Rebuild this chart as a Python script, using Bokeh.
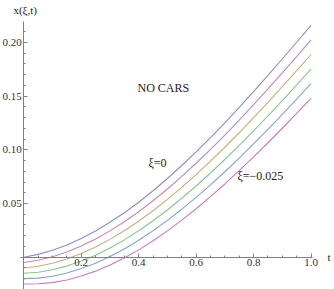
import numpy as np
from bokeh.plotting import figure
from bokeh.models import FixedTicker, Label
from bokeh.embed import file_html
from bokeh.resources import INLINE

# data
t = [0.0, 0.05, 0.1, 0.15, 0.2, 0.25, 0.3, 0.35, 0.4, 0.45, 0.5,
     0.55, 0.6, 0.65, 0.7, 0.75, 0.8, 0.85, 0.9, 0.95, 1.0]
xi_0 = [0.0, 0.0026, 0.0064, 0.0113, 0.0174, 0.0244, 0.0325, 0.0414, 0.0512, 0.0619, 0.0733,
        0.0854, 0.0981, 0.1114, 0.1252, 0.1395, 0.1542, 0.1693, 0.1846, 0.2002, 0.216]
xi_m005 = [-0.0050, -0.0029, 0.0004, 0.0048, 0.0104, 0.0169, 0.0245, 0.0330, 0.0423, 0.0526, 0.0635,
           0.0752, 0.0875, 0.1004, 0.1138, 0.1277, 0.1420, 0.1568, 0.1717, 0.1869, 0.2024]
xi_m010 = [-0.0100, -0.0084, -0.0056, -0.0017, 0.0034, 0.0094, 0.0166, 0.0246, 0.0335, 0.0433, 0.0538,
           0.0650, 0.0769, 0.0894, 0.1024, 0.1159, 0.1299, 0.1442, 0.1588, 0.1737, 0.1888]
xi_m015 = [-0.0150, -0.0140, -0.0117, -0.0083, -0.0036, 0.0019, 0.0086, 0.0161, 0.0246, 0.0339, 0.0440,
           0.0549, 0.0663, 0.0784, 0.0910, 0.1041, 0.1177, 0.1317, 0.1459, 0.1604, 0.1752]
xi_m020 = [-0.0200, -0.0195, -0.0177, -0.0148, -0.0106, -0.0056, 0.0007, 0.0077, 0.0157, 0.0246, 0.0343,
           0.0447, 0.0557, 0.0674, 0.0796, 0.0923, 0.1055, 0.1191, 0.1330, 0.1472, 0.1616]
xi_m025 = [-0.0250, -0.0247, -0.0237, -0.0213, -0.0176, -0.0130, -0.0073, -0.0007, 0.0068, 0.0153, 0.0245,
           0.0345, 0.0451, 0.0564, 0.0682, 0.0806, 0.0934, 0.1066, 0.1201, 0.1339, 0.1480]
series = [xi_0, xi_m005, xi_m010, xi_m015, xi_m020, xi_m025]
colors = ["#8c8cd2", "#cc86ad", "#c9ad7a", "#86c893", "#86a4d0", "#c97ac9"]

x_ticks = [0.2, 0.4, 0.6, 0.8, 1.0]
x_tick_labels = ["0.2", "0.4", "0.6", "0.8", "1.0"]
y_ticks = [0.05, 0.10, 0.15, 0.20]
y_tick_labels = ["0.05", "0.10", "0.15", "0.20"]

FONT = "Liberation Serif"

p = figure(width=334, height=289, x_range=(-0.0811, 1.0818), y_range=(-0.0301, 0.2391),
           output_backend="svg", toolbar_location=None, min_border=0)
p.outline_line_color = None
p.grid.visible = False
p.background_fill_color = "white"
p.border_fill_color = "white"

for ys, c in zip(series, colors):
    p.line(t, ys, line_color=c, line_width=1.1)

axis_col = "#808080"
for ax in (p.xaxis[0], p.yaxis[0]):
    ax.fixed_location = 0
    ax.axis_line_color = axis_col
    ax.major_tick_line_color = axis_col
    ax.minor_tick_line_color = axis_col
    ax.major_tick_out = 0
    ax.minor_tick_out = 0
    ax.major_tick_in = 4
    ax.minor_tick_in = 2
    ax.major_label_text_font = FONT
    ax.major_label_text_font_size = "11px"
    ax.major_label_text_color = "#333333"
    ax.major_label_standoff = 2

p.xaxis.ticker = FixedTicker(ticks=x_ticks, minor_ticks=list(np.round(np.arange(0.05, 1.01, 0.05), 3)))
p.xaxis.major_label_overrides = dict(zip(x_ticks, x_tick_labels))
p.xaxis.bounds = (-0.01, 1.005)
p.yaxis.ticker = FixedTicker(ticks=y_ticks, minor_ticks=list(np.round(np.arange(-0.02, 0.215, 0.01), 3)))
p.yaxis.major_label_overrides = dict(zip(y_ticks, y_tick_labels))
p.yaxis.bounds = (-0.0301, 0.2196)

def lab(x, y, s, size="12px", align="left", base="middle"):
    p.add_layout(Label(x=x, y=y, text=s, text_font=FONT, text_font_size=size,
                       text_align=align, text_baseline=base, text_color="#222222"))

lab(-0.036, 0.2363, "x(ξ,t)", size="11px", base="top")
lab(1.057, 0.0, "t", size="11px")
lab(0.396, 0.1576, "NO CARS")
lab(0.434, 0.0873, "ξ=0")
lab(0.744, 0.0752, "ξ=−0.025")

open("out.html", "w").write(file_html(p, INLINE))
